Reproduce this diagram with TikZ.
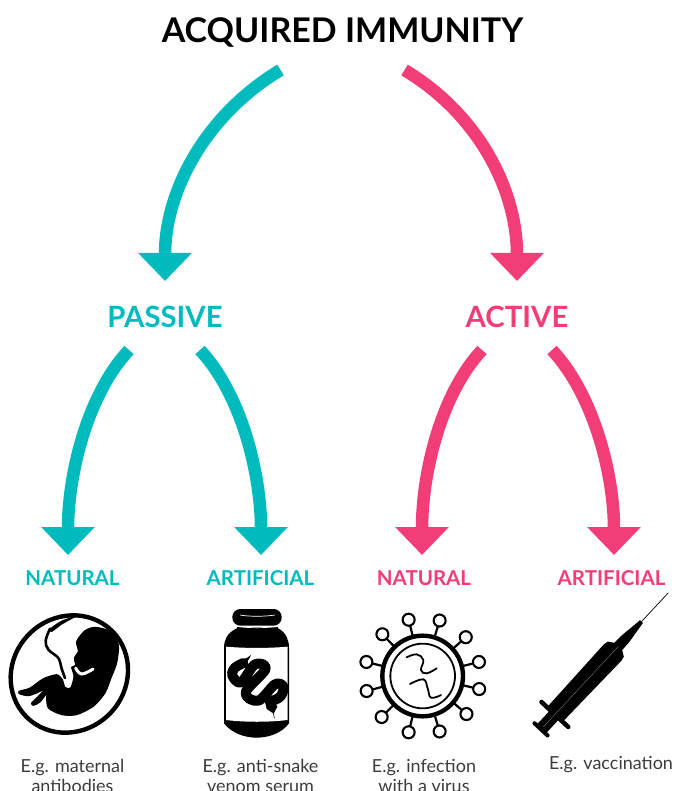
\documentclass[tikz,border=0pt]{standalone}
\usepackage{fontspec}
\setmainfont{Lato}
\usepackage{tikz}
\usetikzlibrary{arrows.meta}
\definecolor{T}{RGB}{0,187,190}
\definecolor{P}{RGB}{243,61,118}
\definecolor{G}{RGB}{60,60,60}
\tikzset{
  branch/.style={line width=12.5pt,-{Triangle[width=52pt,length=28pt]}},
  heading/.style={font=\fontsize{34}{34}\selectfont\bfseries},
  kind/.style={font=\fontsize{29.3}{29.3}\selectfont\bfseries},
  route/.style={font=\fontsize{20.5}{20.5}\selectfont\bfseries},
  example/.style={font=\fontsize{18}{19.5}\selectfont,text=G,align=center},
  ink/.style={fill=black,draw=none},
}
\newcommand{\drawsnake}{\draw[line width=10pt,line cap=round,line join=round]}
\begin{document}
\begin{tikzpicture}[x=1pt,y=-1pt]
\useasboundingbox (0,0) rectangle (674,791);
\node[heading] (acquired) at (342.5,32) {ACQUIRED IMMUNITY};
\node[kind,text=T] (passive) at (165,317) {PASSIVE};
\node[kind,text=P] (active) at (517,317) {ACTIVE};
\node[route,text=T] (naturalT) at (72.5,578) {NATURAL};
\node[route,text=T] (artificialT) at (260.5,578) {ARTIFICIAL};
\node[route,text=P] (naturalP) at (424,578) {NATURAL};
\node[route,text=P] (artificialP) at (611.5,578) {ARTIFICIAL};
\node[example] (maternal) at (72.5,776) {E.g. maternal\\antibodies};
\node[example] (snake) at (260.5,776) {E.g. anti-snake\\venom serum};
\node[example] (infection) at (424,776) {E.g. infection\\with a virus};
\node[example] (vaccination) at (611,765) {E.g. vaccination};
% top arrows
\draw[branch,T] ([shift={(-62,38)}]acquired.center) .. controls +(-75,45) and +(0,-90) .. ([shift={(0,-36)}]passive.center);
\draw[branch,P] ([shift={(62,38)}]acquired.center) .. controls +(75,45) and +(0,-90) .. ([shift={(0,-36)}]active.center);
% lower arrows
\draw[branch,T] ([shift={(-36,33)}]passive.center) .. controls +(-42,45) and +(0,-80) .. ([shift={(-4.5,-23)}]naturalT.center);
\draw[branch,T] ([shift={(35,33)}]passive.center) .. controls +(42,45) and +(0,-80) .. ([shift={(.5,-23)}]artificialT.center);
\draw[branch,P] ([shift={(-35,33)}]active.center) .. controls +(-42,45) and +(0,-80) .. ([shift={(-2,-23)}]naturalP.center);
\draw[branch,P] ([shift={(35,33)}]active.center) .. controls +(42,45) and +(0,-80) .. ([shift={(2.5,-23)}]artificialP.center);
% foetus
\begin{scope}[shift={(5,608)},scale=1/3]
\draw[line width=4.4pt,rotate around={45:(193,198)}] (193,198) ellipse (182 and 170);
\fill[ink] plot[smooth cycle,tension=.55] coordinates {(135,62)(170,38)(215,24)(170,50)(140,72)};
\draw[line width=2.6pt,line cap=round] plot[smooth,tension=.6] coordinates {(135,62)(122,98)(130,125)(160,150)(170,182)(180,210)};
\filldraw[line width=1pt] plot[smooth cycle,tension=.45] coordinates {(270,58)(315,70)(340,110)(335,165)(318,210)(300,255)(265,295)(215,320)(170,320)(130,300)(125,265)(130,250)(105,282)(85,292)(80,285)(103,262)(118,244)(95,255)(70,263)(45,258)(42,250)(75,240)(115,212)(155,200)(172,215)(180,238)(197,240)(207,205)(200,178)(212,172)(208,150)(220,130)(215,100)(240,68)};
\draw[white,line width=3pt,line cap=round] plot[smooth,tension=.7] coordinates {(212,180)(230,198)(264,183)};
\end{scope}
% bottle
\begin{scope}[shift={(215,605)},scale=1/3]
\fill[ink,rounded corners=8pt] (52,12) rectangle (200,62);
\fill[ink] (65,66) rectangle (190,90);
\fill[ink] (65,70) .. controls (35,85) and (27,105) .. (27,130) -- (27,355) .. controls (50,385) and (90,398) .. (125,398) .. controls (160,398) and (200,385) .. (222,355) -- (222,130) .. controls (222,105) and (215,85) .. (190,70) -- cycle;
\fill[white] (33,125) .. controls (90,130) and (160,130) .. (218,125) -- (218,345) .. controls (160,352) and (90,352) .. (33,345) -- cycle;
\draw[white,line width=.7pt] (75,30) .. controls (100,35) and (150,35) .. (180,30);
\draw[white,line width=.7pt] (70,65) .. controls (100,69) and (150,69) .. (185,65);
\drawsnake plot[smooth,tension=.6] coordinates {(85,174)(58,190)(52,212)(78,232)(120,178)(152,192)(92,262)(130,287)(180,238)(205,245)(196,275)(165,290)};
\fill[ink] (108,150) .. controls (100,172) and (80,185) .. (55,195) -- (60,170) .. controls (80,170) and (95,160) .. (108,150) -- cycle;
\fill[ink] (150,290) -- (172,282) -- (187,305) -- (176,326) -- (155,312) -- cycle;
\draw[line width=.6pt] (175,322) -- (178,340);
\end{scope}
% virus
\begin{scope}[shift={(355,610)},scale=1/3]
\begin{scope}[shift={(203,198)}]
\foreach \ang in {-73,-42,-14,13,41,73,104,135,165,-166,-134,-104}{
  \draw[line width=2.2pt] (\ang:120) -- (\ang:157);
  \draw[line width=2.1pt,fill=white] (\ang:174) circle (18);
}
\end{scope}
\draw[line width=4.4pt] (203,198) circle (121);
\draw[line width=1.8pt] (203,198) circle (97);
\draw[line width=1.8pt,line cap=round] plot[smooth,tension=.7] coordinates {(155,142)(185,133)(205,150)(198,180)(215,190)(245,175)};
\draw[line width=1.8pt,line cap=round] plot[smooth,tension=.7] coordinates {(165,222)(205,208)(218,235)(228,263)(258,255)};
\end{scope}
% syringe
\begin{scope}[shift={(525,585)},scale=1/3]
\begin{scope}[shift={(48,433)},rotate=47]
\draw[line width=.7pt] (440,0) -- (560,0);
\fill[ink] (0,-19) -- (61,-19) -- (61,-32) -- (315,-36) -- (329,-33) -- (340,-16) -- (372,-15) -- (442,-6) -- (442,6) -- (372,15) -- (340,16) -- (329,33) -- (315,36) -- (61,32) -- (61,19) -- (0,19) -- cycle;
\draw[line width=4pt,line cap=round] (0,-27) -- (0,27);
\draw[line width=4.5pt,line cap=round] (61,-55) -- (61,55);
\draw[white!70!black,line width=.2pt] (10,0) -- (340,0);
\end{scope}
\end{scope}
\end{tikzpicture}
\end{document}
